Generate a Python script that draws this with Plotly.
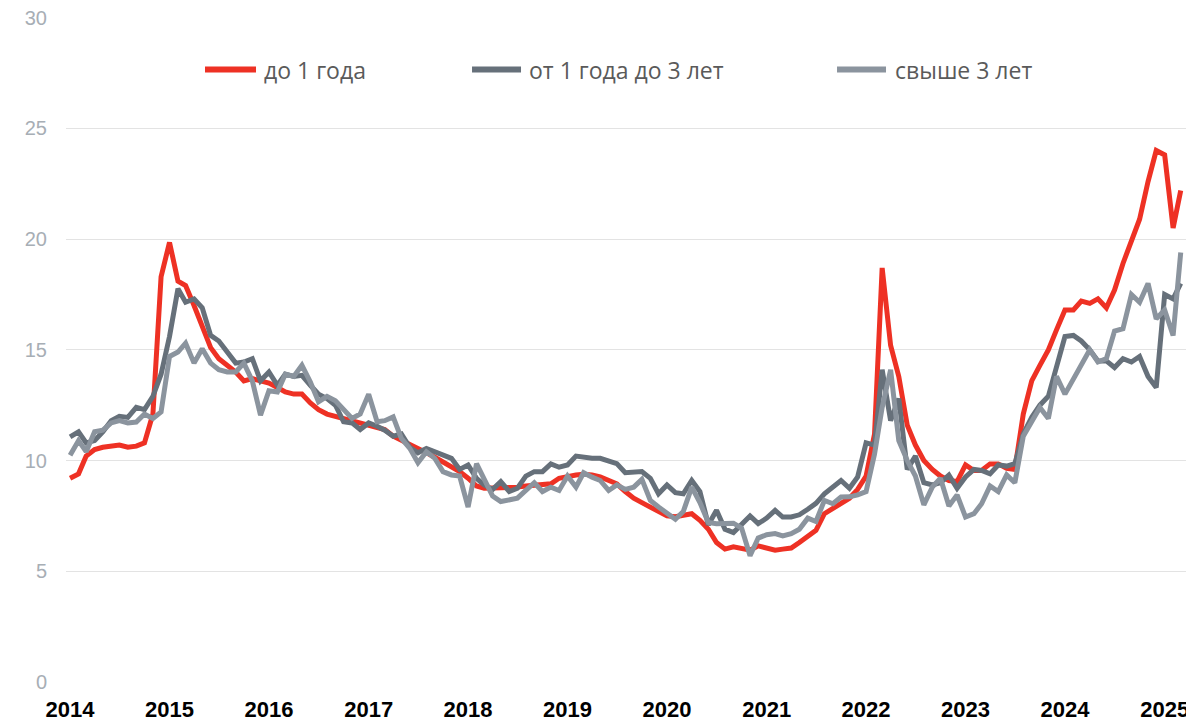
import plotly.graph_objects as go
import pandas as pd

# monthly, Jan 2014 .. Mar 2025
months = pd.date_range("2014-01-01", periods=135, freq="MS")

names = ["до 1 года", "от 1 года до 3 лет", "свыше 3 лет"]

up_to_1y = [
    9.2, 9.4, 10.2, 10.5, 10.6, 10.65, 10.7, 10.6, 10.65, 10.8, 12.1, 18.3,
    19.85, 18.1, 17.9, 17.0, 16.0, 15.1, 14.6, 14.3, 14.0, 13.6, 13.7, 13.6,
    13.5, 13.3, 13.1, 13.0, 13.0, 12.6, 12.3, 12.1, 12.0, 11.9, 11.8, 11.7,
    11.6, 11.5, 11.4, 11.1, 10.9, 10.7, 10.5, 10.35, 10.15, 9.95, 9.7, 9.5,
    9.2, 8.85, 8.75, 8.75, 8.75, 8.75, 8.8, 8.85, 8.9, 8.9, 8.95, 9.2,
    9.3, 9.35, 9.38, 9.35, 9.26, 9.1, 8.95, 8.6, 8.3, 8.1, 7.9, 7.65,
    7.5, 7.46, 7.55, 7.6, 7.3, 6.9, 6.3, 6.0, 6.1, 6.0, 5.95, 6.15,
    6.05, 5.95, 6.0, 6.05, 6.3, 6.6, 6.85, 7.6, 7.85, 8.1, 8.3, 8.7,
    9.3, 11.2, 18.7, 15.2, 13.8, 11.6, 10.7, 10.0, 9.6, 9.3, 9.1, 9.05,
    9.8, 9.55, 9.55, 9.85, 9.85, 9.65, 9.6, 12.1, 13.6, 14.3, 15.0, 15.9,
    16.8, 16.8, 17.2, 17.1, 17.3, 16.9, 17.7, 18.9, 20.0, 20.9, 22.6, 24.0,
    23.8, 20.5, 22.2,
]

from_1_to_3y = [
    11.07, 11.3, 10.8, 10.9, 11.3, 11.8, 12.0, 11.95, 12.4, 12.3, 12.9, 13.9,
    15.6, 17.76, 17.15, 17.3, 16.9, 15.65, 15.4, 14.9, 14.4, 14.45, 14.6, 13.6,
    14.0, 13.4, 13.9, 13.8, 13.85, 13.4, 13.0, 12.8, 12.5, 11.75, 11.7, 11.4,
    11.7, 11.55, 11.37, 11.1, 11.2, 10.6, 10.35, 10.55, 10.4, 10.25, 10.1, 9.6,
    9.8, 9.2, 8.9, 8.7, 9.05, 8.6, 8.75, 9.3, 9.5, 9.5, 9.85, 9.7,
    9.8, 10.2, 10.15, 10.1, 10.1, 10.0, 9.86, 9.45, 9.45, 9.5, 9.2, 8.5,
    8.9, 8.55, 8.5, 9.1, 8.6, 7.1, 7.76, 6.9, 6.75, 7.15, 7.5, 7.15,
    7.4, 7.75, 7.45, 7.45, 7.55, 7.8, 8.07, 8.5, 8.8, 9.1, 8.75, 9.26,
    10.8, 10.7, 14.1, 11.8, 12.8, 9.6, 10.2, 9.0, 8.9, 9.0, 9.34, 8.75,
    9.26, 9.6, 9.55, 9.4, 9.8, 9.75, 9.86, 11.2, 11.95, 12.5, 12.9, 14.2,
    15.6, 15.65, 15.4, 15.0, 14.5, 14.5, 14.2, 14.6, 14.45, 14.7, 13.8, 13.3,
    17.5, 17.3, 18.0,
]

over_3y = [
    10.24, 10.9, 10.4, 11.3, 11.37, 11.7, 11.8, 11.7, 11.74, 12.1, 11.9, 12.2,
    14.7, 14.9, 15.3, 14.4, 15.05, 14.4, 14.1, 14.0, 14.0, 14.4, 13.6, 12.05,
    13.15, 13.1, 13.9, 13.8, 14.3, 13.55, 12.65, 12.9, 12.7, 12.3, 11.9, 12.1,
    13.0, 11.75, 11.8, 11.97, 11.0, 10.55, 9.9, 10.4, 10.1, 9.5, 9.35, 9.3,
    7.9, 9.86, 9.2, 8.4, 8.15, 8.25, 8.3, 8.65, 9.0, 8.6, 8.8, 8.65,
    9.3, 8.8, 9.45, 9.25, 9.1, 8.65, 8.9, 8.7, 8.8, 9.15, 8.2, 7.9,
    7.6, 7.35, 7.7, 8.8, 8.1, 7.2, 7.15, 7.15, 7.17, 6.95, 5.7, 6.5,
    6.65, 6.7, 6.6, 6.7, 6.9, 7.4, 7.25, 8.2, 8.05, 8.35, 8.36, 8.45,
    8.6, 10.3, 12.4, 14.1, 10.9, 10.0, 9.3, 8.0, 8.8, 9.2, 7.95, 8.45,
    7.45, 7.6, 8.05, 8.85, 8.6, 9.35, 9.0, 11.1, 11.8, 12.4, 11.9, 13.8,
    13.0, 13.7, 14.4, 15.0, 14.45, 14.6, 15.85, 15.95, 17.5, 17.15, 18.0, 16.4,
    16.8, 15.65, 19.4,
]

year_ticks = pd.date_range("2014-01-01", "2025-01-01", freq="YS")
year_labels = [str(d.year) for d in year_ticks]

colors = ["#ee3124", "#66707a", "#8b949e"]
series = [up_to_1y, from_1_to_3y, over_3y]

fig = go.Figure()
for name, vals, c in zip(names, series, colors):
    fig.add_trace(go.Scatter(
        x=months, y=vals, name=name, mode="lines",
        line=dict(color=c, width=5),
        showlegend=False,
    ))

# hand-made legend (longer line samples than plotly's own)
legend_pos = [(0.124, 0.1695, 0.1748), (0.3622, 0.4059, 0.4112), (0.6878, 0.7315, 0.7377)]
for name, c, (x0, x1, xt) in zip(names, colors, legend_pos):
    fig.add_shape(type="line", xref="paper", yref="paper", x0=x0, x1=x1, y0=0.921, y1=0.921,
                  line=dict(color=c, width=6))
    fig.add_annotation(xref="paper", yref="paper", x=xt, y=0.921, text=name,
                       showarrow=False, xanchor="left", yanchor="middle",
                       font=dict(family="Open Sans", size=23, color="#5a5a5a"))

# page body has an 8px margin, so the figure is 8px smaller and margins shifted
fig.update_layout(
    width=1186, height=714,
    paper_bgcolor="white", plot_bgcolor="white",
    margin=dict(l=58, r=7, t=9, b=40),
    xaxis=dict(
        range=["2013-12-17", "2025-03-24"],
        tickvals=year_ticks, ticktext=year_labels,
        showgrid=False, zeroline=False, showline=False, ticks="",
        tickfont=dict(family="Liberation Sans, Arial", size=22, color="black", weight="bold"),
        ticklabelstandoff=12, automargin=False,
    ),
    yaxis=dict(
        range=[0, 30.03], tickvals=[0, 5, 10, 15, 20, 25, 30],
        showgrid=True, gridcolor="#e3e3e3", gridwidth=1,
        zeroline=False, showline=False, ticks="",
        tickfont=dict(family="Liberation Sans, Arial", size=20, color="#a7aeb5"),
        ticklabelstandoff=18, automargin=False,
        ticklabeloverflow="allow",
    ),
)

fig.write_html("out.html")
